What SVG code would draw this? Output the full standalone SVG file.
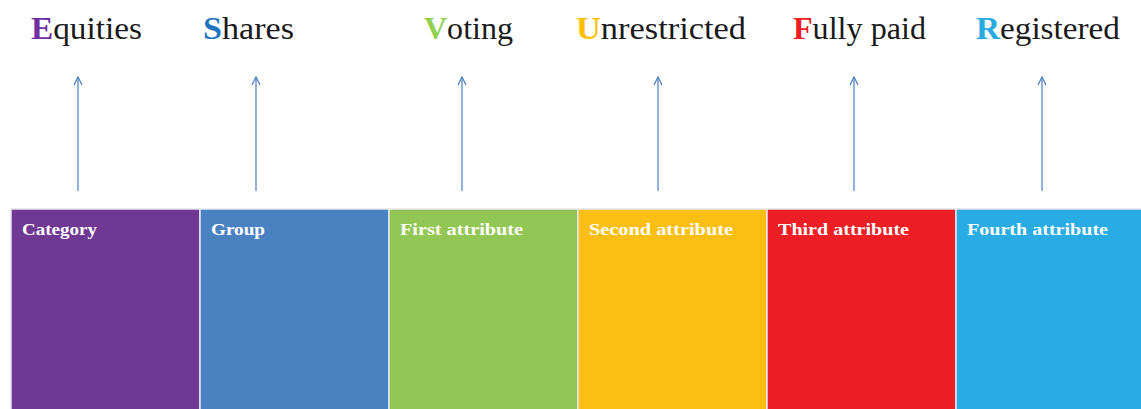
<svg xmlns="http://www.w3.org/2000/svg" width="1141" height="409" viewBox="0 0 1141 409">
<defs>
<style>
.t{font-family:"Liberation Serif","DejaVu Serif",serif;font-size:32px;fill:#1a1a1a}
.k{font-weight:bold}
.b{stroke:#e6e6f0;stroke-width:1.5}
.l{font-family:"Liberation Serif","DejaVu Serif",serif;font-weight:bold;font-size:17px;fill:#ffffff}
.a{stroke:#4a7ec0;stroke-width:1.2;fill:none}
</style>
<marker id="ah" viewBox="0 0 10 10" refX="9" refY="5" markerWidth="10" markerHeight="10" markerUnits="userSpaceOnUse" orient="auto">
<path d="M1,1 L9,5 L1,9" fill="none" stroke="#4a7ec0" stroke-width="1.2"/>
</marker>
</defs>
<rect width="1141" height="409" fill="#ffffff"/>
<g id="titles">
<text class="t" x="31" y="39" textLength="111" lengthAdjust="spacingAndGlyphs"><tspan class="k" fill="#7030a0">E</tspan>quities</text>
<text class="t" x="203" y="39" textLength="91" lengthAdjust="spacingAndGlyphs"><tspan class="k" fill="#1f75c0">S</tspan>hares</text>
<text class="t" x="424" y="39" textLength="89" lengthAdjust="spacingAndGlyphs"><tspan class="k" fill="#92d050">V</tspan>oting</text>
<text class="t" x="576" y="39" textLength="170" lengthAdjust="spacingAndGlyphs"><tspan class="k" fill="#ffc000">U</tspan>nrestricted</text>
<text class="t" x="793" y="39" textLength="133" lengthAdjust="spacingAndGlyphs"><tspan class="k" fill="#ee1c25">F</tspan>ully paid</text>
<text class="t" x="976" y="39" textLength="144" lengthAdjust="spacingAndGlyphs"><tspan class="k" fill="#29abe2">R</tspan>egistered</text>
</g>
<g id="connectors">
<line class="a" x1="78" y1="191" x2="78" y2="77" marker-end="url(#ah)"/>
<line class="a" x1="256" y1="191" x2="256" y2="77" marker-end="url(#ah)"/>
<line class="a" x1="462" y1="191" x2="462" y2="77" marker-end="url(#ah)"/>
<line class="a" x1="658" y1="191" x2="658" y2="77" marker-end="url(#ah)"/>
<line class="a" x1="854" y1="191" x2="854" y2="77" marker-end="url(#ah)"/>
<line class="a" x1="1042" y1="191" x2="1042" y2="77" marker-end="url(#ah)"/>
</g>
<g id="category"><rect class="b" x="11" y="209" width="189" height="205" fill="#6f3893"/><text class="l" x="22" y="235" textLength="75" lengthAdjust="spacingAndGlyphs">Category</text></g>
<g id="group"><rect class="b" x="200" y="209" width="189" height="205" fill="#4a81c0"/><text class="l" x="211" y="235" textLength="54" lengthAdjust="spacingAndGlyphs">Group</text></g>
<g id="first"><rect class="b" x="389" y="209" width="189" height="205" fill="#92c755"/><text class="l" x="400" y="235" textLength="123" lengthAdjust="spacingAndGlyphs">First attribute</text></g>
<g id="second"><rect class="b" x="578" y="209" width="189" height="205" fill="#fbbf14"/><text class="l" x="589" y="235" textLength="144" lengthAdjust="spacingAndGlyphs">Second attribute</text></g>
<g id="third"><rect class="b" x="767" y="209" width="189" height="205" fill="#ee1e25"/><text class="l" x="778" y="235" textLength="131" lengthAdjust="spacingAndGlyphs">Third attribute</text></g>
<g id="fourth"><rect class="b" x="956" y="209" width="189" height="205" fill="#29abe3"/><text class="l" x="967" y="235" textLength="141" lengthAdjust="spacingAndGlyphs">Fourth attribute</text></g>
</svg>
